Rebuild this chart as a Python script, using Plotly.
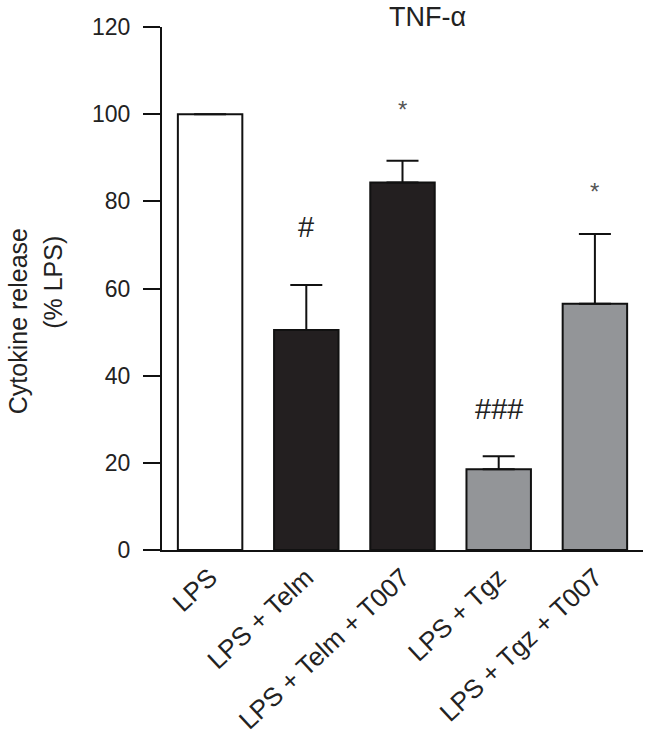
import plotly.graph_objects as go

# data
groups = ["LPS", "LPS + Telm", "LPS + Telm + T007", "LPS + Tgz", "LPS + Tgz + T007"]
release = [100, 50.5, 84.3, 18.5, 56.5]
sem = [0, 10.3, 5.0, 3.0, 16.0]
bar_colors = ["white", "#231f20", "#231f20", "#939598", "#939598"]

marks = ["", "#", "*", "###", "*"]
mark_y = [0, 74, 101, 32.3, 82.3]

FONT = "Liberation Sans, Arial, sans-serif"

fig = go.Figure()
fig.add_trace(go.Bar(
    x=groups, y=release,
    width=0.67,
    marker=dict(color=bar_colors, line=dict(color="#111", width=2)),
    error_y=dict(type="data", symmetric=False, array=sem,
                 arrayminus=[0]*len(sem), color="#111", thickness=2, width=16),
))

for g, m, yy in zip(groups, marks, mark_y):
    if not m:
        continue
    star = m == "*"
    fig.add_annotation(x=g, y=yy, text=m, showarrow=False,
                       font=dict(family=FONT, size=24 if star else 29,
                                 color="#555" if star else "#222"))

# title and two-line y label
fig.add_annotation(xref="paper", x=0.551, yref="paper", y=1, yshift=10,
                   yanchor="middle", text="TNF-α", showarrow=False,
                   font=dict(family=FONT, size=27, color="#222"))
fig.add_annotation(xref="paper", x=0, xshift=-144, xanchor="center",
                   yref="y", y=52.5, text="Cytokine release", textangle=-90,
                   showarrow=False, font=dict(family=FONT, size=25, color="#222"))
fig.add_annotation(xref="paper", x=0, xshift=-109, xanchor="center",
                   yref="y", y=61.3, text="(% LPS)", textangle=-90,
                   showarrow=False, font=dict(family=FONT, size=25, color="#222"))

fig.update_layout(
    width=650, height=751,
    margin=dict(l=162, r=7, t=27, b=201),
    plot_bgcolor="white", paper_bgcolor="white",
    showlegend=False,
    font=dict(family=FONT, size=23, color="#222"),
)
fig.update_xaxes(range=[-0.5, 4.5], showline=True, linecolor="#111", linewidth=2,
                 ticks="", tickangle=-43, showgrid=False, zeroline=False,
                 tickfont=dict(size=26))
fig.update_yaxes(range=[0, 120], tickvals=[0, 20, 40, 60, 80, 100, 120],
                 showline=True, linecolor="#111", linewidth=2,
                 ticks="outside", ticklen=17, tickwidth=2, tickcolor="#111",
                 ticklabelstandoff=8, showgrid=False, zeroline=False)

# drop the default page margin so the figure fills the window
fig.write_html("out.html", config={"displayModeBar": False},
               post_script="document.body.style.margin='0';document.body.style.overflow='hidden';")
